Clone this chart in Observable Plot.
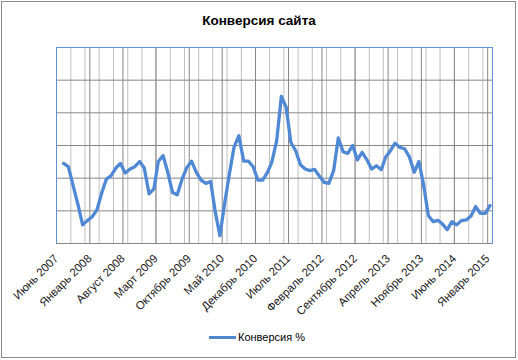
<!DOCTYPE html>
<html><head><meta charset="utf-8">
<script src="https://cdn.jsdelivr.net/npm/d3@7"></script>
<script src="https://cdn.jsdelivr.net/npm/@observablehq/plot@0.6"></script>
<style>
body{margin:0;background:#fff;}
#wrap{position:relative;width:518px;height:360px;font-family:"Liberation Sans",Arial,sans-serif;overflow:hidden;}
#frame{position:absolute;left:1px;top:1px;width:515px;height:357px;box-sizing:border-box;border:1px solid #8a8a8a;pointer-events:none;}
#title{position:absolute;left:0;top:13px;width:518px;text-align:center;font-weight:bold;font-size:13.5px;color:#000;}
#legend{position:absolute;left:209px;top:331px;display:flex;align-items:center;font-size:11px;color:#000;}
#legend .sw{width:27px;height:3px;background:#4f86d0;margin-right:2px;}
#chart{position:absolute;left:0;top:0;}
</style>
</head><body>
<div id="wrap">
  <div id="chart"></div>
  <div id="title">Конверсия сайта</div>
  <div id="legend"><span class="sw"></span><span>Конверсия %</span></div>
  <div id="frame"></div>
</div>
<script>
// Monthly values, July 2007 .. January 2015
const seriesName = "Конверсия %";
const firstYear = 2007, firstMonth = 6; // July (0-based)
const values = [
  2.45, 2.35, 1.77, 1.21, 0.57, 0.70, 0.82, 1.03, 1.52, 1.97, 2.07, 2.31,
  2.45, 2.16, 2.28, 2.35, 2.51, 2.31, 1.52, 1.67, 2.51, 2.69, 2.18, 1.56,
  1.49, 1.97, 2.33, 2.52, 2.18, 1.94, 1.84, 1.90, 1.00, 0.24, 1.21, 2.13,
  2.95, 3.30, 2.52, 2.52, 2.35, 1.94, 1.94, 2.18, 2.49, 3.15, 4.50, 4.17,
  3.10, 2.84, 2.41, 2.28, 2.23, 2.27, 2.06, 1.87, 1.84, 2.23, 3.23, 2.81,
  2.76, 3.00, 2.56, 2.79, 2.56, 2.28, 2.38, 2.26, 2.64, 2.84, 3.07, 2.94,
  2.90, 2.65, 2.18, 2.51, 1.77, 0.85, 0.67, 0.71, 0.60, 0.42, 0.67, 0.57,
  0.70, 0.72, 0.84, 1.13, 0.92, 0.92, 1.16
];
const tickLabels = ["Июнь 2007","Январь 2008","Август 2008","Март 2009","Октябрь 2009","Май 2010",
  "Декабрь 2010","Июль 2011","Февраль 2012","Сентябрь 2012","Апрель 2013","Ноябрь 2013","Июнь 2014","Январь 2015"];
const yGrid = [1, 2, 3, 4, 5, 6];

const xStart = new Date(Date.UTC(2007, 5, 1));
const xEnd = new Date(Date.UTC(2015, 1, 1));
const data = values.map((v, i) => ({date: new Date(Date.UTC(firstYear, firstMonth + i, 16)), value: v}));
const majorTicks = d3.utcMonth.range(xStart, d3.utcMonth.offset(xEnd, 1), 7);
const minorTicks = d3.utcMonth.range(xStart, d3.utcMonth.offset(xEnd, 1), 3);
const labelOf = new Map(majorTicks.map((d, i) => [+d, tickLabels[i]]));

const chart = Plot.plot({
  width: 518, height: 360,
  marginLeft: 56, marginRight: 26, marginTop: 47, marginBottom: 117,
  x: {type: "utc", domain: [xStart, xEnd]},
  y: {domain: [0, 6], axis: null},
  style: {fontFamily: "'Liberation Sans', Arial, sans-serif", fontSize: "11.5px", color: "#1a1a1a", background: "transparent"},
  marks: [
    Plot.gridX(minorTicks, {stroke: "#bfbfbf", strokeOpacity: 1}),
    Plot.gridX(majorTicks, {stroke: "#868686", strokeOpacity: 1}),
    Plot.gridY(yGrid, {stroke: "#868686", strokeOpacity: 1}),
    Plot.frame({stroke: "#5b8fd6"}),
    Plot.ruleY([0], {stroke: "#868686"}),
    Plot.axisX(majorTicks, {tickSize: 0, tickPadding: 13, tickRotate: -45, textAnchor: "end", tickFormat: d => labelOf.get(+d), label: null}),
    Plot.lineY(data, {x: "date", y: "value", stroke: "#4f88d4", strokeWidth: 3.3, strokeLinejoin: "round", strokeLinecap: "round"})
  ]
});
document.getElementById("chart").appendChild(chart);
</script>
</body></html>
